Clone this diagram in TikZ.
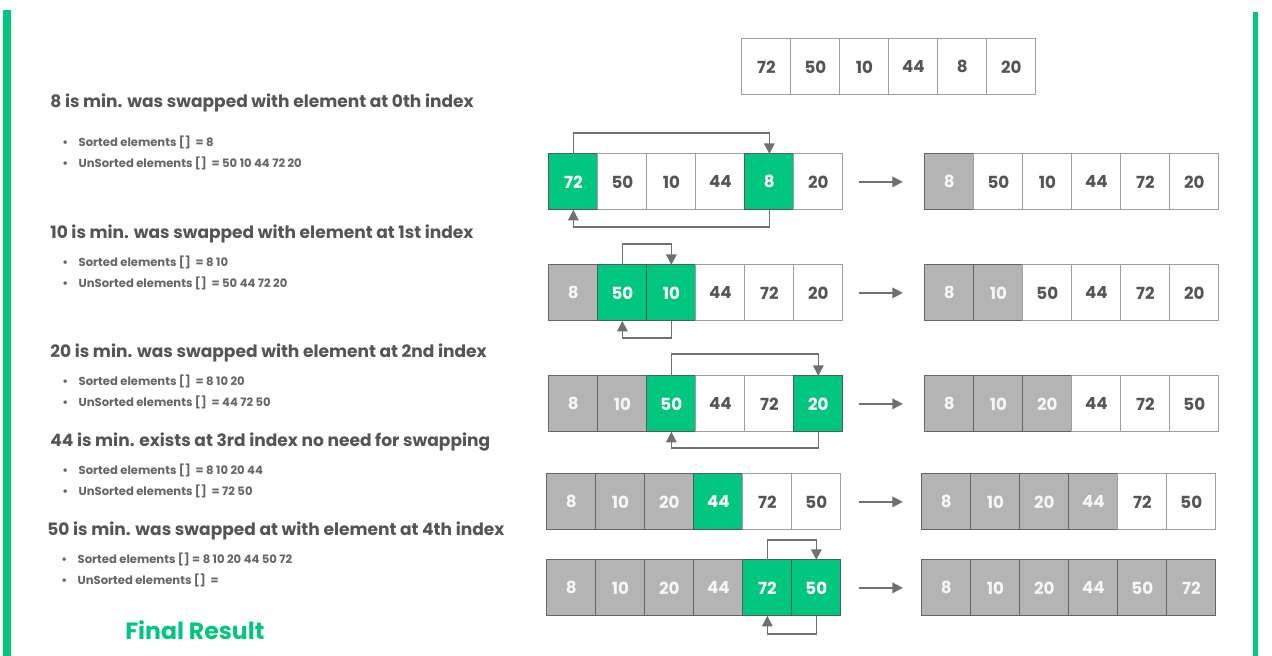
\documentclass[tikz,border=0pt]{standalone}
\usepackage{fontspec}
\setmainfont{Poppins}
\usetikzlibrary{arrows.meta}
\usetikzlibrary{positioning}

\definecolor{pickgreen}{RGB}{0,198,128}
\definecolor{donegray}{RGB}{180,180,180}
\definecolor{inkgray}{RGB}{85,85,85}
\definecolor{wiregray}{RGB}{112,112,112}

\tikzset{
  cell/.style={draw=black!38,line width=0.6pt,outer sep=0pt,inner sep=0pt,
    minimum width=0.98cm,minimum height=1.12cm,text=inkgray,
    font=\bfseries\fontsize{9.5}{10}\selectfont},
  pick/.style={cell,fill=pickgreen,draw=black!65,text=white},
  done/.style={cell,fill=donegray,draw=black!60,text=white!93!gray},
  grid/.style={inner sep=0pt,column sep=-0.6pt,anchor=north west},
  swap/.style={draw=wiregray,line width=0.9pt,-{Triangle[width=6pt,length=6pt]}},
  next/.style={draw=wiregray,line width=0.9pt,-{Triangle[width=6pt,length=6pt]}},
  head/.style={anchor=west,inner sep=0pt,text=inkgray,font=\bfseries\fontsize{9.7}{11}\selectfont},
  item/.style={anchor=west,inner sep=0pt,text=inkgray!90,font=\bfseries\fontsize{6.6}{8}\selectfont}
}

\begin{document}
\begin{tikzpicture}[x=0.02cm,y=-0.02cm]
\useasboundingbox[fill=white] (0,0) rectangle (1272,656);
\fill[pickgreen] (3,10) rectangle (11,656);
\fill[pickgreen] (1253,12) rectangle (1258,656);

% starting array
\matrix (top) [grid] at (741,38) {
\node[cell] (t-1) {72}; & \node[cell] (t-2) {50}; & \node[cell] (t-3) {10}; & \node[cell] (t-4) {44}; & \node[cell] (t-5) {8}; & \node[cell] (t-6) {20}; \\
};

% pass 1
\matrix (A1) [grid] at (548,153) {
\node[pick] (a1-1) {72}; & \node[cell] (a1-2) {50}; & \node[cell] (a1-3) {10}; & \node[cell] (a1-4) {44}; & \node[pick] (a1-5) {8}; & \node[cell] (a1-6) {20}; \\
};
\matrix (B1) [grid] at (924,153) {
\node[done] (b1-1) {8}; & \node[cell] (b1-2) {50}; & \node[cell] (b1-3) {10}; & \node[cell] (b1-4) {44}; & \node[cell] (b1-5) {72}; & \node[cell] (b1-6) {20}; \\
};
\draw[swap] (a1-1.north) -- ++(0,-21) -| (a1-5.north);
\draw[swap] (a1-5.south) -- ++(0,17) -| (a1-1.south);
\draw[next,shorten <=0.32cm,shorten >=0.44cm] (a1-6.east) -- (b1-1.west);

% pass 2
\matrix (A2) [grid] at (548,264) {
\node[done] (a2-1) {8}; & \node[pick] (a2-2) {50}; & \node[pick] (a2-3) {10}; & \node[cell] (a2-4) {44}; & \node[cell] (a2-5) {72}; & \node[cell] (a2-6) {20}; \\
};
\matrix (B2) [grid] at (924,264) {
\node[done] (b2-1) {8}; & \node[done] (b2-2) {10}; & \node[cell] (b2-3) {50}; & \node[cell] (b2-4) {44}; & \node[cell] (b2-5) {72}; & \node[cell] (b2-6) {20}; \\
};
\draw[swap] (a2-2.north) -- ++(0,-21) -| (a2-3.north);
\draw[swap] (a2-3.south) -- ++(0,17) -| (a2-2.south);
\draw[next,shorten <=0.32cm,shorten >=0.44cm] (a2-6.east) -- (b2-1.west);

% pass 3
\matrix (A3) [grid] at (548,375) {
\node[done] (a3-1) {8}; & \node[done] (a3-2) {10}; & \node[pick] (a3-3) {50}; & \node[cell] (a3-4) {44}; & \node[cell] (a3-5) {72}; & \node[pick] (a3-6) {20}; \\
};
\matrix (B3) [grid] at (924,375) {
\node[done] (b3-1) {8}; & \node[done] (b3-2) {10}; & \node[done] (b3-3) {20}; & \node[cell] (b3-4) {44}; & \node[cell] (b3-5) {72}; & \node[cell] (b3-6) {50}; \\
};
\draw[swap] (a3-3.north) -- ++(0,-22) -| (a3-6.north);
\draw[swap] (a3-6.south) -- ++(0,16) -| (a3-3.south);
\draw[next,shorten <=0.32cm,shorten >=0.44cm] (a3-6.east) -- (b3-1.west);

% pass 4
\matrix (A4) [grid] at (546,473) {
\node[done] (a4-1) {8}; & \node[done] (a4-2) {10}; & \node[done] (a4-3) {20}; & \node[pick] (a4-4) {44}; & \node[cell] (a4-5) {72}; & \node[cell] (a4-6) {50}; \\
};
\matrix (B4) [grid] at (921,473) {
\node[done] (b4-1) {8}; & \node[done] (b4-2) {10}; & \node[done] (b4-3) {20}; & \node[done] (b4-4) {44}; & \node[cell] (b4-5) {72}; & \node[cell] (b4-6) {50}; \\
};
\draw[next,shorten <=0.36cm,shorten >=0.38cm] (a4-6.east) -- (b4-1.west);

% pass 5
\matrix (A5) [grid] at (546,559) {
\node[done] (a5-1) {8}; & \node[done] (a5-2) {10}; & \node[done] (a5-3) {20}; & \node[done] (a5-4) {44}; & \node[pick] (a5-5) {72}; & \node[pick] (a5-6) {50}; \\
};
\matrix (B5) [grid] at (921,559) {
\node[done] (b5-1) {8}; & \node[done] (b5-2) {10}; & \node[done] (b5-3) {20}; & \node[done] (b5-4) {44}; & \node[done] (b5-5) {50}; & \node[done] (b5-6) {72}; \\
};
\draw[swap] (a5-5.north) -- ++(0,-20) -| (a5-6.north);
\draw[swap] (a5-6.south) -- ++(0,18) -| (a5-5.south);
\draw[next,shorten <=0.36cm,shorten >=0.38cm] (a5-6.east) -- (b5-1.west);

% notes on the left
\node[head] (h1) at (50,103) {8 is min. was swapped with element at 0th index};
\node[item] (h1-s) at (62,142) {\textbullet\hspace{6pt}Sorted elements [] \ = 8};
\node[item] (h1-u) at (62,163) {\textbullet\hspace{6pt}UnSorted elements [] \ = 50 10 44 72 20};

\node[head] (h2) at (50,234) {10 is min. was swapped with element at 1st index};
\node[item] (h2-s) at (62,262) {\textbullet\hspace{6pt}Sorted elements [] \ = 8 10};
\node[item] (h2-u) at (62,283) {\textbullet\hspace{6pt}UnSorted elements [] \ = 50 44 72 20};

\node[head] (h3) at (50,353) {20 is min. was swapped with element at 2nd index};
\node[item] (h3-s) at (62,381) {\textbullet\hspace{6pt}Sorted elements [] \ = 8 10 20};
\node[item] (h3-u) at (62,402) {\textbullet\hspace{6pt}UnSorted elements [] \ = 44 72 50};

\node[head] (h4) at (50,442) {44 is min. exists at 3rd index no need for swapping};
\node[item] (h4-s) at (62,470) {\textbullet\hspace{6pt}Sorted elements [] \ = 8 10 20 44};
\node[item] (h4-u) at (62,491) {\textbullet\hspace{6pt}UnSorted elements [] \ = 72 50};

\node[head] (h5) at (47,531) {50 is min. was swapped at with element at 4th index};
\node[item] (h5-s) at (61,559) {\textbullet\hspace{6pt}Sorted elements [] = 8 10 20 44 50 72};
\node[item] (h5-u) at (61,580) {\textbullet\hspace{6pt}UnSorted elements [] \ =};

\node[anchor=west,inner sep=0pt,text=pickgreen,font=\bfseries\fontsize{13.4}{15}\selectfont] (fin) at (125,630) {Final Result};
\end{tikzpicture}
\end{document}
